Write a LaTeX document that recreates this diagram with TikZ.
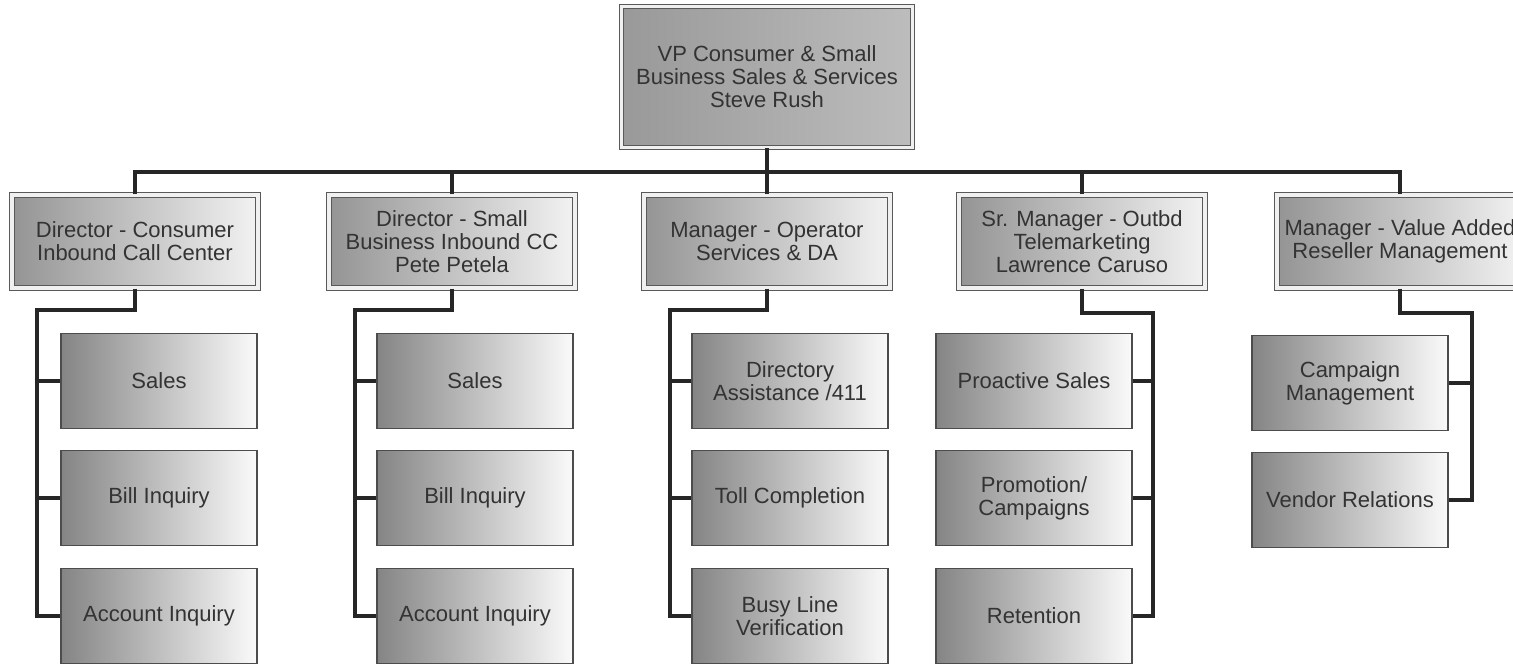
\documentclass[tikz,border=0pt]{standalone}
\usepackage{fontspec}
\setmainfont{Liberation Sans}
\begin{document}
\begin{tikzpicture}[x=0.5pt, y=-0.5pt,
    txt/.style={align=center, inner sep=0pt, text=black!80,
        font=\fontsize{11}{11.5}\selectfont},
    vpbox/.style={txt, draw=black!65, line width=0.6pt,
        double=black!6, double distance=1.6pt,
        left color=black!40, middle color=black!18, right color=black!26,
        minimum width=145.5pt, minimum height=70.5pt},
    dirbox/.style={txt, draw=black!65, line width=0.6pt,
        double=black!6, double distance=1.6pt,
        left color=black!42, middle color=black!12, right color=black!5,
        minimum width=123pt, minimum height=46.5pt},
    unitbox/.style={txt, draw=black!70, line width=0.6pt,
        left color=black!48, middle color=black!10, right color=black!2,
        minimum width=98pt, minimum height=47.5pt},
    conn/.style={line width=2pt, black!85}]

    % Page
    \fill[white] (0,0) rectangle (1513,664);
    \useasboundingbox (0,0) rectangle (1513,664);

    % VP
    \node[vpbox] (vp) at (767,77)
        {VP Consumer \& Small\\Business Sales \& Services\\Steve Rush};

    % Directors and managers
    \node[dirbox] (dir1) at (135,241.5)
        {Director - Consumer\\Inbound Call Center};
    \node[dirbox] (dir2) at (452,241.5)
        {Director - Small\\Business Inbound CC\\Pete Petela};
    \node[dirbox] (mgr3) at (767,241.5)
        {Manager - Operator\\Services \& DA};
    \node[dirbox] (mgr4) at (1082,241.5)
        {Sr. Manager - Outbd\\Telemarketing\\Lawrence Caruso};
    \node[dirbox] (mgr5) at (1400,241.5)
        {Manager - Value Added\\Reseller Management};

    % Consumer inbound units
    \node[unitbox] (sal1) at (159,381) {Sales};
    \node[unitbox] (bil1) at (159,498) {Bill Inquiry};
    \node[unitbox] (acc1) at (159,616) {Account Inquiry};

    % Small business inbound units
    \node[unitbox] (sal2) at (475,381) {Sales};
    \node[unitbox] (bil2) at (475,498) {Bill Inquiry};
    \node[unitbox] (acc2) at (475,616) {Account Inquiry};

    % Operator services units
    \node[unitbox] (da) at (790,381) {Directory\\Assistance /411};
    \node[unitbox] (toll) at (790,498) {Toll Completion};
    \node[unitbox] (busy) at (790,616) {Busy Line\\Verification};

    % Telemarketing units
    \node[unitbox] (pro) at (1034,381) {Proactive Sales};
    \node[unitbox] (promo) at (1034,498) {Promotion/\\Campaigns};
    \node[unitbox] (ret) at (1034,616) {Retention};

    % Reseller units
    \node[unitbox] (camp) at (1350,383) {Campaign\\Management};
    \node[unitbox] (vend) at (1350,500) {Vendor Relations};

    % Top bus
    \coordinate (bus) at (767,172);
    \draw[conn] (vp.south) -- (bus);
    \draw[conn] (dir1.north) |- (bus);
    \draw[conn] (dir2.north) |- (bus);
    \draw[conn] (mgr3.north) -- (bus);
    \draw[conn] (mgr4.north) |- (bus);
    \draw[conn] (mgr5.north) |- (bus);

    % Spines, left side
    \coordinate (sp1) at (37,310);
    \draw[conn] (dir1.south) |- (sp1) |- (acc1.west);
    \draw[conn] (sp1 |- sal1.west) -- (sal1.west);
    \draw[conn] (sp1 |- bil1.west) -- (bil1.west);

    \coordinate (sp2) at (355,310);
    \draw[conn] (dir2.south) |- (sp2) |- (acc2.west);
    \draw[conn] (sp2 |- sal2.west) -- (sal2.west);
    \draw[conn] (sp2 |- bil2.west) -- (bil2.west);

    \coordinate (sp3) at (670,310);
    \draw[conn] (mgr3.south) |- (sp3) |- (busy.west);
    \draw[conn] (sp3 |- da.west) -- (da.west);
    \draw[conn] (sp3 |- toll.west) -- (toll.west);

    % Spines, right side
    \coordinate (sp4) at (1153,313);
    \draw[conn] (mgr4.south) |- (sp4) |- (ret.east);
    \draw[conn] (sp4 |- pro.east) -- (pro.east);
    \draw[conn] (sp4 |- promo.east) -- (promo.east);

    \coordinate (sp5) at (1472,313);
    \draw[conn] (mgr5.south) |- (sp5) |- (vend.east);
    \draw[conn] (sp5 |- camp.east) -- (camp.east);

\end{tikzpicture}
\end{document}
